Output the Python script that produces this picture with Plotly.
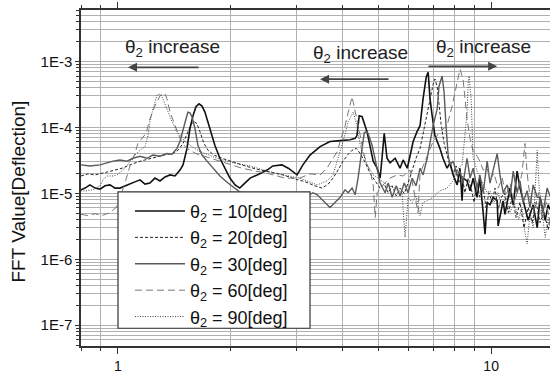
import numpy as np
import plotly.graph_objects as go

# ---- data (frequency [Hz], FFT value) ----
f_10 = [0.796,0.816,0.841,0.868,0.895,0.923,0.952,0.982,1.012,1.044,1.077,1.11,1.146,1.181,1.218,1.256,1.296,1.337,1.379,1.422,1.466,1.494,1.531,1.559,1.589,1.618,1.649,1.68,1.71,1.764,1.819,1.876,1.935,1.995,2.06,2.12,2.163,2.26,2.36,2.51,2.60,2.75,2.86,3.02,3.13,3.27,3.48,3.70,3.94,4.19,4.32,4.37,4.43,4.51,4.65,4.74,4.83,4.95,5.04,5.10,5.17,5.26,5.36,5.53,5.70,5.81,5.96,6.06,6.18,6.33,6.45,6.57,6.70,6.78,6.86,6.95,7.07,7.29,7.43,7.62,7.76,7.91,8.11,8.25,8.36,8.41,8.62,8.78,8.95,9.17,9.33,9.52,9.63,9.76,9.93,10.12,10.38,10.44,10.77,10.89,11.23,11.46,11.74,11.95,12.18,12.57,12.96,13.29,13.52,13.96,14.22,14.38]
v_10 = [1.13e-5,1.2e-5,1.34e-5,1.2e-5,1.16e-5,1.3e-5,1.34e-5,1.2e-5,1.2e-5,1.3e-5,1.38e-5,1.49e-5,1.6e-5,1.38e-5,1.43e-5,1.7e-5,1.54e-5,1.77e-5,1.9e-5,1.83e-5,2.25e-5,2.7e-5,4.8e-5,9.6e-5,1.5e-4,2.05e-4,2.27e-4,2.1e-4,1.7e-4,9.6e-5,5.3e-5,3.4e-5,2.4e-5,1.7e-5,1.34e-5,1.2e-5,1.34e-5,1.7e-5,1.9e-5,2.25e-5,2.6e-5,2.7e-5,2.4e-5,1.9e-5,2.7e-5,3.8e-5,5.1e-5,6.1e-5,6.3e-5,6.5e-5,6.8e-5,7.5e-5,1.5e-4,1.45e-4,8.6e-5,5.3e-5,3.07e-5,2.4e-5,1.7e-5,3.4e-5,8.1e-5,3.4e-5,2.9e-5,3.4e-5,2.4e-5,3.2e-5,2.4e-5,3.65e-5,6.1e-5,8.6e-5,1.06e-4,2.7e-4,5.8e-4,6.8e-4,2.7e-4,1.5e-4,7.5e-5,4.8e-5,3.4e-5,2.4e-5,2.9e-5,1.9e-5,1.34e-5,2.4e-5,7.7e-6,1.7e-5,1.54e-5,1.09e-5,1.7e-5,8.7e-6,1.7e-5,5.1e-6,2.4e-6,7.3e-6,6.7e-6,8.7e-6,7.7e-6,3.2e-6,7.7e-6,4.8e-6,1.2e-5,6.7e-6,2.17e-5,1.2e-5,7.7e-6,3.9e-6,6.7e-6,3.0e-6,8.7e-6,3.9e-6,6.7e-6,5.7e-6]

f_20 = [0.796,0.831,0.868,0.895,0.934,0.982,1.025,1.077,1.131,1.181,1.233,1.296,1.353,1.405,1.448,1.494,1.531,1.569,1.599,1.628,1.658,1.70,1.743,1.808,1.90,2.02,2.19,2.37,2.55,2.77,2.98,3.17,3.37,3.52,3.66,3.77,3.89,4.01,4.14,4.24,4.35,4.46,4.60,4.74,4.89,5.04,5.17,5.30,5.43,5.57,5.70,5.85,5.99,6.14,6.29,6.45,6.61,6.78,6.91,6.99,7.07,7.17,7.25,7.34,7.48,7.62,7.76,7.91,8.06,8.20,8.36,8.51,8.68,8.84,9.0,9.17,9.33,9.52,9.69,9.87,10.05,10.24,10.44,10.66,10.83,11.12,11.40,11.67,11.95,12.25,12.57,12.88,13.2,13.52,13.86,14.22,14.38]
v_20 = [1.83e-5,1.97e-5,1.9e-5,2.0e-5,2.1e-5,2.25e-5,2.4e-5,2.7e-5,3.0e-5,3.2e-5,3.4e-5,3.65e-5,3.9e-5,4.0e-5,4.5e-5,5.7e-5,8.1e-5,1.1e-4,1.22e-4,1.14e-4,8.6e-5,5.7e-5,4.5e-5,3.8e-5,3.4e-5,3.0e-5,2.6e-5,2.3e-5,2.1e-5,1.9e-5,1.65e-5,1.5e-5,1.3e-5,1.2e-5,1.38e-5,1.7e-5,2.25e-5,3.07e-5,3.9e-5,4.5e-5,4.8e-5,4.0e-5,2.9e-5,2.0e-5,1.54e-5,1.2e-5,1.38e-5,1.02e-5,1.3e-5,9.1e-6,1.2e-5,9.9e-6,1.43e-5,2.25e-5,3.4e-5,4.8e-5,9.6e-5,1.8e-4,3.2e-4,4.5e-4,5.4e-4,4.1e-4,2.27e-4,1.14e-4,5.7e-5,3.65e-5,2.6e-5,2.0e-5,2.6e-5,1.43e-5,1.83e-5,1.02e-5,1.7e-5,1.2e-5,7.3e-6,1.43e-5,8.7e-6,1.2e-5,6.1e-6,1.02e-5,7.3e-6,1.2e-5,5.7e-6,8.7e-6,1.02e-5,5.1e-6,8.7e-6,4.3e-6,7.3e-6,3.0e-6,6.1e-6,3.6e-6,7.3e-6,3.6e-6,5.1e-6,2.8e-6,4.3e-6]

f_30 = [0.796,0.841,0.895,0.934,0.970,1.012,1.057,1.097,1.146,1.196,1.241,1.296,1.353,1.396,1.439,1.466,1.494,1.522,1.54,1.559,1.579,1.608,1.638,1.68,1.733,1.798,1.876,1.972,2.06,2.15,2.26,2.40,2.63,2.89,3.17,3.33,3.42,3.59,3.70,3.82,3.94,4.06,4.14,4.24,4.32,4.40,4.46,4.51,4.57,4.63,4.68,4.80,4.89,4.98,5.04,5.20,5.30,5.43,5.57,5.70,5.85,5.99,6.14,6.29,6.45,6.57,6.74,6.86,6.99,7.17,7.25,7.39,7.48,7.57,7.67,7.76,7.91,8.11,8.25,8.41,8.62,8.78,8.95,9.17,9.33,9.52,9.76,9.93,10.12,10.38,10.56,10.77,11.04,11.23,11.46,11.74,11.95,12.18,12.49,12.71,12.96,13.29,13.52,13.77,14.13,14.38]
v_30 = [2.7e-5,2.6e-5,2.7e-5,2.9e-5,3.07e-5,3.2e-5,3.07e-5,3.4e-5,3.65e-5,3.4e-5,3.8e-5,3.65e-5,4.0e-5,3.9e-5,4.8e-5,6.1e-5,9.6e-5,1.35e-4,1.7e-4,1.66e-4,1.45e-4,9.6e-5,5.3e-5,3.8e-5,3.07e-5,2.4e-5,1.83e-5,1.43e-5,1.2e-5,9.9e-6,8.7e-6,7.3e-6,6.5e-6,7.3e-6,8.7e-6,1.02e-5,9.5e-6,7.3e-6,6.1e-6,7.3e-6,8.7e-6,1.13e-5,1.02e-5,1.2e-5,9.5e-6,1.7e-5,3.07e-5,5.7e-5,8.3e-5,8.6e-5,8.1e-5,5.3e-5,3.4e-5,2.0e-5,1.43e-5,1.02e-5,1.43e-5,8.7e-6,1.3e-5,9.1e-6,1.43e-5,1.02e-5,1.7e-5,1.3e-5,2.4e-5,1.9e-5,3.4e-5,6.1e-5,1.06e-4,1.9e-4,4.2e-4,6.0e-4,3.4e-4,1.06e-4,3.8e-5,2.7e-5,3.07e-5,1.83e-5,2.17e-5,1.43e-5,3.4e-5,1.7e-5,2.4e-5,1.2e-5,1.9e-5,1.02e-5,3.07e-5,1.43e-5,2.25e-5,4.0e-5,1.9e-5,1.02e-5,1.34e-5,8.7e-6,2.17e-5,1.02e-5,1.54e-5,7.3e-6,1.09e-5,6.1e-6,1.34e-5,8.7e-6,8.7e-6,5.1e-6,1.2e-5,9.1e-6]

f_60 = [0.796,0.831,0.868,0.906,0.952,0.988,1.012,1.044,1.077,1.11,1.131,1.16,1.189,1.218,1.256,1.296,1.32,1.337,1.353,1.379,1.422,1.466,1.512,1.559,1.618,1.70,1.819,1.972,2.15,2.34,2.55,2.80,3.07,3.27,3.48,3.63,3.77,3.87,3.94,4.06,4.14,4.19,4.24,4.27,4.37,4.46,4.54,4.65,4.74,4.83,4.89,4.95,5.13,5.36,5.60,5.81,6.06,6.37,6.45,6.70,6.99,7.29,7.62,7.86,8.0,8.16,8.25,8.41,8.51,8.62,8.78,8.95,9.17,9.33,9.52,9.76,9.93,10.18,10.44,10.71,10.96,11.23,11.52,11.85,12.1,12.32,12.49,12.71,13.04,13.4,13.7,14.05,14.38]
v_60 = [4.8e-6,4.6e-6,4.9e-6,4.6e-6,5.1e-6,6.1e-6,8.7e-6,1.43e-5,2.6e-5,4.0e-5,5.7e-5,6.8e-5,8.1e-5,1.35e-4,2.1e-4,3.0e-4,3.3e-4,3.2e-4,2.7e-4,1.7e-4,1.06e-4,6.8e-5,5.1e-5,4.5e-5,4.0e-5,3.65e-5,3.2e-5,2.8e-5,2.4e-5,2.17e-5,1.97e-5,1.7e-5,1.7e-5,1.97e-5,1.9e-5,2.4e-5,3.4e-5,4.3e-5,6.1e-5,1.06e-4,1.7e-4,2.35e-4,2.9e-4,2.4e-4,1.35e-4,7.5e-5,4.3e-5,2.7e-5,2.17e-5,1.34e-5,4.3e-6,1.02e-5,1.34e-5,1.7e-5,1.9e-5,1.83e-5,2.25e-5,5.1e-6,2.0e-5,3.4e-5,6.1e-5,8.6e-5,1.06e-4,2.1e-4,3.4e-4,6.0e-4,7.6e-4,5.4e-4,2.4e-4,1.35e-4,6.8e-5,4.3e-5,3.65e-5,3.07e-5,2.25e-5,2.4e-5,1.6e-5,2.0e-5,1.2e-5,1.7e-5,9.1e-6,1.43e-5,7.3e-6,1.2e-5,2.0e-5,5.7e-5,2.0e-5,8.7e-6,5.1e-6,1.02e-5,4.0e-6,7.3e-6,3.6e-6]

f_90 = [0.796,0.826,0.857,0.895,0.912,0.934,0.970,0.994,1.031,1.057,1.077,1.11,1.146,1.181,1.204,1.218,1.241,1.256,1.272,1.296,1.32,1.353,1.396,1.439,1.466,1.512,1.579,1.658,1.843,2.034,2.26,2.51,2.77,3.07,3.42,3.63,3.77,3.89,4.01,4.14,4.24,4.27,4.37,4.46,4.65,4.83,4.98,5.26,5.53,5.77,5.88,5.99,6.14,6.29,6.45,6.57,6.74,6.99,7.29,7.62,7.91,8.16,8.36,8.51,8.62,8.68,8.73,8.84,8.89,8.95,9.17,9.52,9.76,9.93,10.18,10.44,10.71,10.96,11.23,11.52,11.85,12.1,12.32,12.49,12.71,12.96,13.1,13.29,13.45,13.7,13.96,14.22,14.38]
v_90 = [1.09e-5,1.09e-5,1.13e-5,1.3e-5,1.6e-5,1.83e-5,1.83e-5,1.9e-5,2.25e-5,2.6e-5,3.07e-5,3.8e-5,4.5e-5,5.1e-5,7.5e-5,1.22e-4,1.9e-4,2.5e-4,3.1e-4,3.2e-4,2.7e-4,1.9e-4,1.22e-4,8.6e-5,7.5e-5,6.1e-5,5.1e-5,4.3e-5,3.4e-5,2.9e-5,2.6e-5,2.17e-5,1.9e-5,1.7e-5,1.34e-5,1.54e-5,1.9e-5,3.4e-5,6.1e-5,1.22e-4,1.6e-4,1.7e-4,1.06e-4,5.3e-5,2.7e-5,1.9e-5,1.7e-5,1.34e-5,1.2e-5,1.02e-5,2.15e-6,8.7e-6,7.3e-6,9.1e-6,4.6e-6,7.3e-6,7.7e-6,8.7e-6,1.09e-5,1.2e-5,1.54e-5,2.4e-5,2.7e-5,8.6e-5,1.7e-4,4.8e-4,6.0e-4,2.7e-4,7.5e-5,3.4e-5,2.17e-5,1.34e-5,1.02e-5,1.09e-5,7.3e-6,1.02e-5,6.1e-6,8.7e-6,5.1e-6,7.3e-6,4.0e-6,6.1e-6,2.6e-6,1.7e-6,5.1e-6,3.0e-6,1.02e-5,4.5e-5,1.2e-5,5.1e-6,2.15e-6,4.3e-6,3.0e-6]

labels = ["10", "20", "30", "60", "90"]
y_tick_vals = [1e-7, 1e-6, 1e-5, 1e-4, 1e-3]
y_tick_text = ["1E-7", "1E-6", "1E-5", "1E-4", "1E-3"]
x_tick_vals = [1, 10]
x_tick_text = ["1", "10"]
note_text = "θ<sub>2</sub> increase"
y_title = "FFT Value[Deflection]"

FONT = "Liberation Sans, Arial, sans-serif"

series = [
    (f_10, v_10, dict(color="#111111", width=1.6, dash="solid")),
    (f_20, v_20, dict(color="#222222", width=1.0, dash="3px,2px")),
    (f_30, v_30, dict(color="#5a5a5a", width=1.4, dash="solid")),
    (f_60, v_60, dict(color="#777777", width=1.0, dash="7px,4px")),
    (f_90, v_90, dict(color="#444444", width=1.0, dash="1px,1.5px")),
]

fig = go.Figure()
for lab, (fx, vy, ln) in zip(labels, series):
    fig.add_trace(go.Scatter(x=fx, y=vy, mode="lines", line=ln,
                             name=f"θ<sub>2</sub> = {lab}[deg]"))

y_minor = [m * 10.0 ** e for e in range(-8, -2) for m in range(2, 10)]
x_minor = [0.8, 0.9] + list(range(2, 10))

fig.update_layout(
    width=550, height=374,
    margin=dict(l=81, r=0, t=10, b=24),
    paper_bgcolor="white", plot_bgcolor="white",
    font=dict(family=FONT, size=14, color="#111111"),
    showlegend=True,
    legend=dict(x=0.1045, y=0.456, xanchor="left", yanchor="top",
                bgcolor="rgba(0,0,0,0)", borderwidth=0,
                font=dict(family=FONT, size=18, color="#111111"),
                itemwidth=50, tracegroupgap=0),
)

# legend frame (white box hiding the curves behind the legend)
fig.add_shape(type="rect", xref="paper", yref="paper",
              x0=0.0789, x1=0.4883, y0=0.0529, y1=0.4588,
              fillcolor="white", line=dict(color="#333333", width=1.2), layer="above")

fig.update_xaxes(
    type="log", range=[np.log10(0.796), np.log10(14.38)],
    tickmode="array", tickvals=x_tick_vals, ticktext=x_tick_text,
    ticks="outside", ticklen=6, tickcolor="#333333",
    showgrid=False, zeroline=False,
    showline=True, linecolor="#333333", linewidth=1.5, mirror="ticks",
    minor=dict(tickmode="array", tickvals=x_minor, ticks="outside", ticklen=3,
               tickcolor="#333333", showgrid=True, gridcolor="#b0b0b0", gridwidth=1),
    tickfont=dict(size=14, color="#111111"),
)
fig.update_yaxes(
    type="log", range=[-7.315, -2.221],
    tickmode="array", tickvals=y_tick_vals, ticktext=y_tick_text,
    ticks="outside", ticklen=4, tickcolor="#333333",
    showgrid=True, gridcolor="#b0b0b0", gridwidth=1, zeroline=False,
    showline=True, linecolor="#333333", linewidth=1.5, mirror=False,
    minor=dict(tickmode="array", tickvals=y_minor, ticks="outside", ticklen=3,
               tickcolor="#333333", showgrid=True, gridcolor="#b0b0b0", gridwidth=1),
    tickfont=dict(size=15, color="#111111"),
)

# y-axis title placed as rotated text
fig.add_annotation(x=-0.134, y=0.46, xref="paper", yref="paper", text=y_title,
                   textangle=-90, showarrow=False, xanchor="center", yanchor="middle",
                   font=dict(family=FONT, size=19, color="#111111"))

# text labels
for (tx, ty) in [(0.145, -2.79), (0.651, -2.895), (0.979, -2.79)]:
    fig.add_annotation(x=tx, y=ty, xref="x", yref="y", text=note_text,
                       showarrow=False, font=dict(family=FONT, size=19, color="#222222"))
# arrows (head, tail) in log units
for (hx, hy, tx) in [(0.0268, -3.09, 0.22), (0.5416, -3.27, 0.729), (1.016, -3.075, 0.828)]:
    fig.add_annotation(x=hx, y=hy, ax=tx, ay=hy, xref="x", yref="y", axref="x", ayref="y",
                       text="", showarrow=True, arrowhead=2, arrowsize=1.0,
                       arrowwidth=1.8, arrowcolor="#444444")

fig.write_html("out.html")
